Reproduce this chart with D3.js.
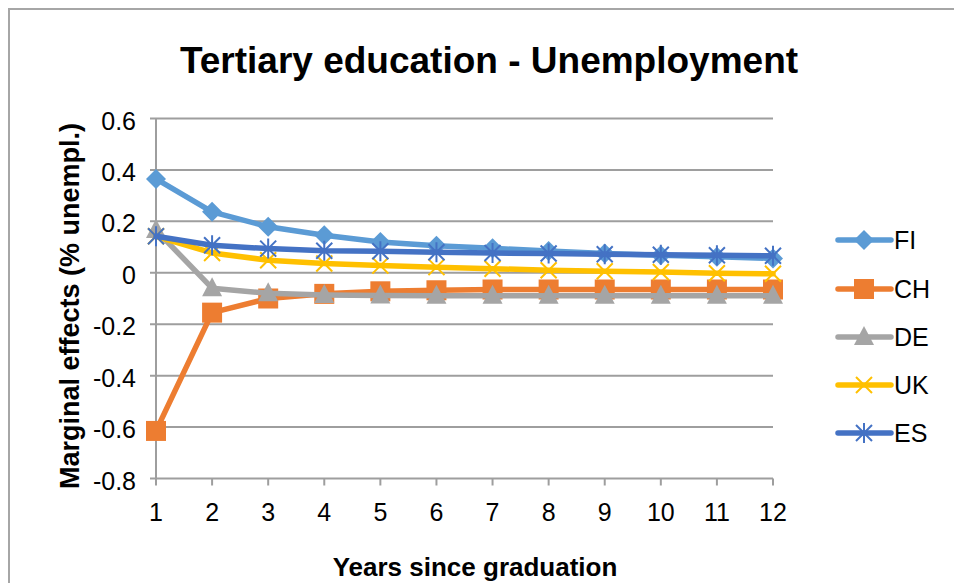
<!DOCTYPE html>
<html><head><meta charset="utf-8">
<script src="https://cdn.jsdelivr.net/npm/d3@7"></script>
<style>body{margin:0;background:#fff}svg{display:block}</style>
</head><body><svg id="c" width="954" height="583"></svg>
<script>
const years = [1,2,3,4,5,6,7,8,9,10,11,12];
const seriesNames = ["FI","CH","DE","UK","ES"];
const FI = [0.365,0.237,0.179,0.146,0.120,0.105,0.095,0.085,0.075,0.068,0.062,0.056];
const CH = [-0.615,-0.155,-0.100,-0.082,-0.072,-0.068,-0.065,-0.065,-0.065,-0.065,-0.065,-0.065];
const DE = [0.166,-0.060,-0.080,-0.086,-0.088,-0.089,-0.089,-0.089,-0.089,-0.089,-0.089,-0.089];
const UK = [0.142,0.077,0.049,0.036,0.028,0.022,0.016,0.010,0.006,0.003,-0.002,-0.004];
const ES = [0.142,0.107,0.094,0.086,0.084,0.080,0.077,0.075,0.072,0.070,0.068,0.066];
const yTicks = [0.6,0.4,0.2,0,-0.2,-0.4,-0.6,-0.8];
const colors = {FI:"#5B9BD5",CH:"#ED7D31",DE:"#A5A5A5",UK:"#FFC000",ES:"#4472C4"};
const markers = {FI:"diamond",CH:"square",DE:"triangle",UK:"x",ES:"star"};
const data = {FI,CH,DE,UK,ES};

const svg = d3.select("#c");
const font = "'Liberation Sans', Arial, Helvetica, sans-serif";
svg.append("rect").attr("x",9).attr("y",9).attr("width",1000).attr("height",1000)
  .attr("fill","#fff").attr("stroke","#a6a6a6").attr("stroke-width",2);

const x = d3.scaleLinear().domain([1,12]).range([156,773]);
const y = d3.scaleLinear().domain([-0.8,0.6]).range([478.5,118.5]);

// gridlines
svg.append("g").selectAll("line").data(yTicks).join("line")
  .attr("x1",150).attr("x2",773).attr("y1",d=>y(d)).attr("y2",d=>y(d))
  .attr("stroke","#9e9e9e").attr("stroke-width",2);
// y axis line
svg.append("line").attr("x1",156).attr("x2",156).attr("y1",y(0.6)).attr("y2",y(-0.8)+1)
  .attr("stroke","#9e9e9e").attr("stroke-width",2);
// x ticks
svg.append("g").selectAll("line").data(years).join("line")
  .attr("x1",d=>x(d)).attr("x2",d=>x(d)).attr("y1",y(-0.8)).attr("y2",y(-0.8)+7)
  .attr("stroke","#9e9e9e").attr("stroke-width",2);

// y tick labels
svg.append("g").selectAll("text").data(yTicks).join("text")
  .attr("x",136).attr("y",d=>y(d)+11).attr("text-anchor","end")
  .attr("font-family",font).attr("font-size",25).attr("fill","#000")
  .text(d=>String(Math.round(d*10)/10));
// x tick labels
svg.append("g").selectAll("text").data(years).join("text")
  .attr("x",d=>x(d)).attr("y",521).attr("text-anchor","middle")
  .attr("font-family",font).attr("font-size",25).attr("fill","#000").text(d=>d);

// titles
svg.append("text").attr("x",489).attr("y",73).attr("text-anchor","middle")
  .attr("font-family",font).attr("font-size",37).attr("font-weight","bold").text("Tertiary education - Unemployment");
svg.append("text").attr("x",475).attr("y",576).attr("text-anchor","middle")
  .attr("font-family",font).attr("font-size",26).attr("font-weight","bold").text("Years since graduation");
svg.append("text").attr("transform","translate(79,306) rotate(-90)").attr("text-anchor","middle")
  .attr("font-family",font).attr("font-size",27).attr("font-weight","bold").text("Marginal effects (% unempl.)");

function drawMarker(g, type, cx, cy, color){
  if(type==="diamond"){
    g.append("path").attr("d",`M${cx},${cy-10}L${cx+10},${cy}L${cx},${cy+10}L${cx-10},${cy}Z`).attr("fill",color);
  } else if(type==="square"){
    g.append("rect").attr("x",cx-10).attr("y",cy-10).attr("width",20).attr("height",20).attr("fill",color);
  } else if(type==="triangle"){
    g.append("path").attr("d",`M${cx},${cy-11}L${cx+10},${cy+8}L${cx-10},${cy+8}Z`).attr("fill",color);
  } else if(type==="x"){
    g.append("path").attr("d",`M${cx-8},${cy-8}L${cx+8},${cy+8}M${cx+8},${cy-8}L${cx-8},${cy+8}`)
      .attr("stroke",color).attr("stroke-width",2);
  } else if(type==="star"){
    g.append("path").attr("d",`M${cx-8},${cy-8}L${cx+8},${cy+8}M${cx+8},${cy-8}L${cx-8},${cy+8}M${cx},${cy-10}L${cx},${cy+10}`)
      .attr("stroke",color).attr("stroke-width",2);
  }
}

const line = d3.line().x((d,i)=>x(years[i])).y(d=>y(d));
seriesNames.forEach(name=>{
  const g = svg.append("g");
  g.append("path").datum(data[name]).attr("d",line).attr("fill","none")
    .attr("stroke",colors[name]).attr("stroke-width",5.5).attr("stroke-linejoin","round").attr("stroke-linecap","round");
  data[name].forEach((v,i)=>drawMarker(g, markers[name], x(years[i]), y(v), colors[name]));
});

// legend
const legY = [240,289,337,385,433];
seriesNames.forEach((name,i)=>{
  const g = svg.append("g");
  g.append("line").attr("x1",838).attr("x2",891).attr("y1",legY[i]).attr("y2",legY[i])
    .attr("stroke",colors[name]).attr("stroke-width",5.5).attr("stroke-linecap","round");
  drawMarker(g, markers[name], 864, legY[i], colors[name]);
  g.append("text").attr("x",894).attr("y",legY[i]+9).attr("font-family",font).attr("font-size",25).text(name);
});
</script></body></html>
